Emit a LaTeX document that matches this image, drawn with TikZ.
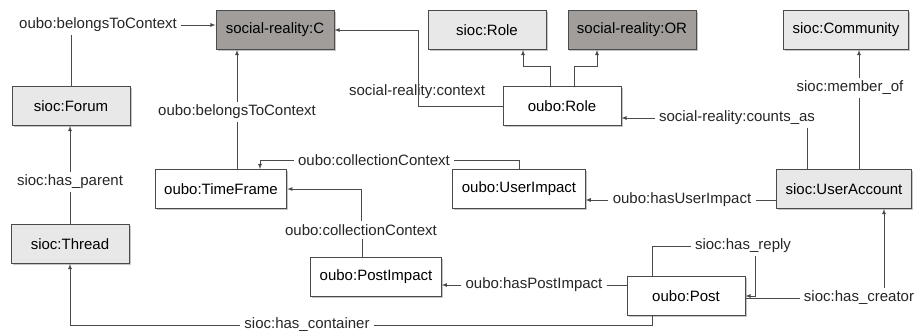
\documentclass[tikz,border=0pt]{standalone}
\usepackage{fontspec}
\setmainfont{Liberation Sans}
\usetikzlibrary{arrows,positioning,calc,shadows}
\definecolor{darkbox}{HTML}{A19D9B}
\definecolor{lightbox}{HTML}{E8E8E8}
\definecolor{lineclr}{HTML}{4A4A4A}
\tikzset{
  cls/.style={draw=lineclr, line width=0.9pt, minimum width=118pt, minimum height=39pt,
    inner xsep=9pt, drop shadow={shadow xshift=1.5pt, shadow yshift=-1.5pt, opacity=0.45}},
  srbox/.style={cls, fill=darkbox},
  siocbox/.style={cls, fill=lightbox},
  oubobox/.style={cls, fill=white},
  prop/.style={inner xsep=4pt, inner ysep=3pt, text=black!85},
}

\begin{document}
\begin{tikzpicture}[x=1pt, y=-1pt, >=latex, line width=0.8pt, color=lineclr,
       font=\fontsize{15}{17}\selectfont]
      \useasboundingbox (0, 0) rectangle (916, 333);
      \node[srbox, text=black] (srC) at (275, 30) {social-reality:C};
      \node[siocbox, text=black] (siocRole) at (487, 30) {sioc:Role};
      \node[srbox, text=black] (srOR) at (632, 30) {social-reality:OR};
      \node[siocbox, text=black] (siocCommunity) at (846, 30) {sioc:Community};
      \node[siocbox, text=black] (siocForum) at (71, 106) {sioc:Forum};
      \node[oubobox, text=black] (ouboRole) at (562, 106) {oubo:Role};
      \node[oubobox, text=black] (ouboTimeFrame) at (221, 189) {oubo:TimeFrame};
      \node[oubobox, text=black] (ouboUserImpact) at (519, 189) {oubo:UserImpact};
      \node[siocbox, text=black] (siocUserAccount) at (844, 189) {sioc:UserAccount};
      \node[siocbox, text=black] (siocThread) at (70, 244) {sioc:Thread};
      \node[oubobox, text=black] (ouboPostImpact) at (376, 277) {oubo:PostImpact};
      \node[oubobox, text=black] (ouboPost) at (686, 296) {oubo:Post};

      % property labels
      \node[prop] (lForumC) at (98, 25) {oubo:belongsToContext};
      \node[prop] (lTimeC) at (237, 112) {oubo:belongsToContext};
      \node[prop] (lRoleC) at (417, 92) {social-reality:context};
      \node[prop] (lCounts) at (737, 118) {social-reality:counts\_as};
      \node[prop] (lMember) at (850, 88) {sioc:member\_of};
      \node[prop] (lCollU) at (374, 160) {oubo:collectionContext};
      \node[prop] (lCollP) at (361, 230) {oubo:collectionContext};
      \node[prop] (lHasUser) at (682, 200) {oubo:hasUserImpact};
      \node[prop] (lHasPost) at (534, 285) {oubo:hasPostImpact};
      \node[prop] (lReply) at (743, 246) {sioc:has\_reply};
      \node[prop] (lCreator) at (859, 298) {sioc:has\_creator};
      \node[prop] (lContainer) at (307, 325) {sioc:has\_container};
      \node[prop] (lParent) at (70, 182) {sioc:has\_parent};

      \coordinate (rc) at (418, 30);

      \draw (siocForum.north) -- (siocForum.north |- lForumC.south);
      \draw[->] (lForumC.east) -- (lForumC.east -| srC.west);
      \draw (lTimeC.south |- ouboTimeFrame.north) -- (lTimeC.south);
      \draw[->] (lTimeC.north) -- (lTimeC.north |- srC.south);
      \draw[->] (ouboRole.west) -| (rc) -- (srC.east);
      \draw[->] ([xshift=-12pt]ouboRole.north) -- ++(0, -20) -| ([xshift=36pt]siocRole.south);
      \draw[->] ([xshift=12pt]ouboRole.north) -- ++(0, -20) -| ([xshift=-35pt]srOR.south);
      \draw ([xshift=-37pt]siocUserAccount.north) -- ([xshift=-37pt]siocUserAccount.north |- lCounts.south);
      \draw[->] (lCounts.west) -- (lCounts.west -| ouboRole.east);
      \draw ([xshift=15pt]siocUserAccount.north) -- ([xshift=15pt]siocUserAccount.north |- lMember.south);
      \draw[->] ([xshift=9pt]lMember.north) -- ([xshift=9pt]lMember.north |- siocCommunity.south);
      \draw (lCollU.east) -| (ouboUserImpact.north);
      \draw[->] (lCollU.west) -| ([xshift=39pt]ouboTimeFrame.north);
      \draw ([xshift=-14pt]ouboPostImpact.north) -- ([xshift=-14pt]ouboPostImpact.north |- lCollP.south);
      \draw[->] (lCollP.north) |- (ouboTimeFrame.east);
      \draw (lHasUser.east) -- (lHasUser.east -| siocUserAccount.west);
      \draw[->] (lHasUser.west) -- (lHasUser.west -| ouboUserImpact.east);
      \draw (lHasPost.east) -- (lHasPost.east -| ouboPost.west);
      \draw[->] (lHasPost.west) -- (lHasPost.west -| ouboPostImpact.east);
      \draw ([xshift=-34pt]ouboPost.north) |- (lReply.west);
      \draw[->] ([xshift=12pt]lReply.south) |- (ouboPost.east);
      \draw (lCreator.west -| ouboPost.east) -- (lCreator.west);
      \draw[->] ([xshift=25pt]lCreator.north) -- ([xshift=25pt]lCreator.north |- siocUserAccount.south);
      \draw ([xshift=-34pt]ouboPost.south) |- (lContainer.east);
      \draw[->] (lContainer.west) -| (siocThread.south);
      \draw (siocThread.north) -- (siocThread.north |- lParent.south);
      \draw[->] (lParent.north) -- (lParent.north |- siocForum.south);
     \end{tikzpicture}
\end{document}
